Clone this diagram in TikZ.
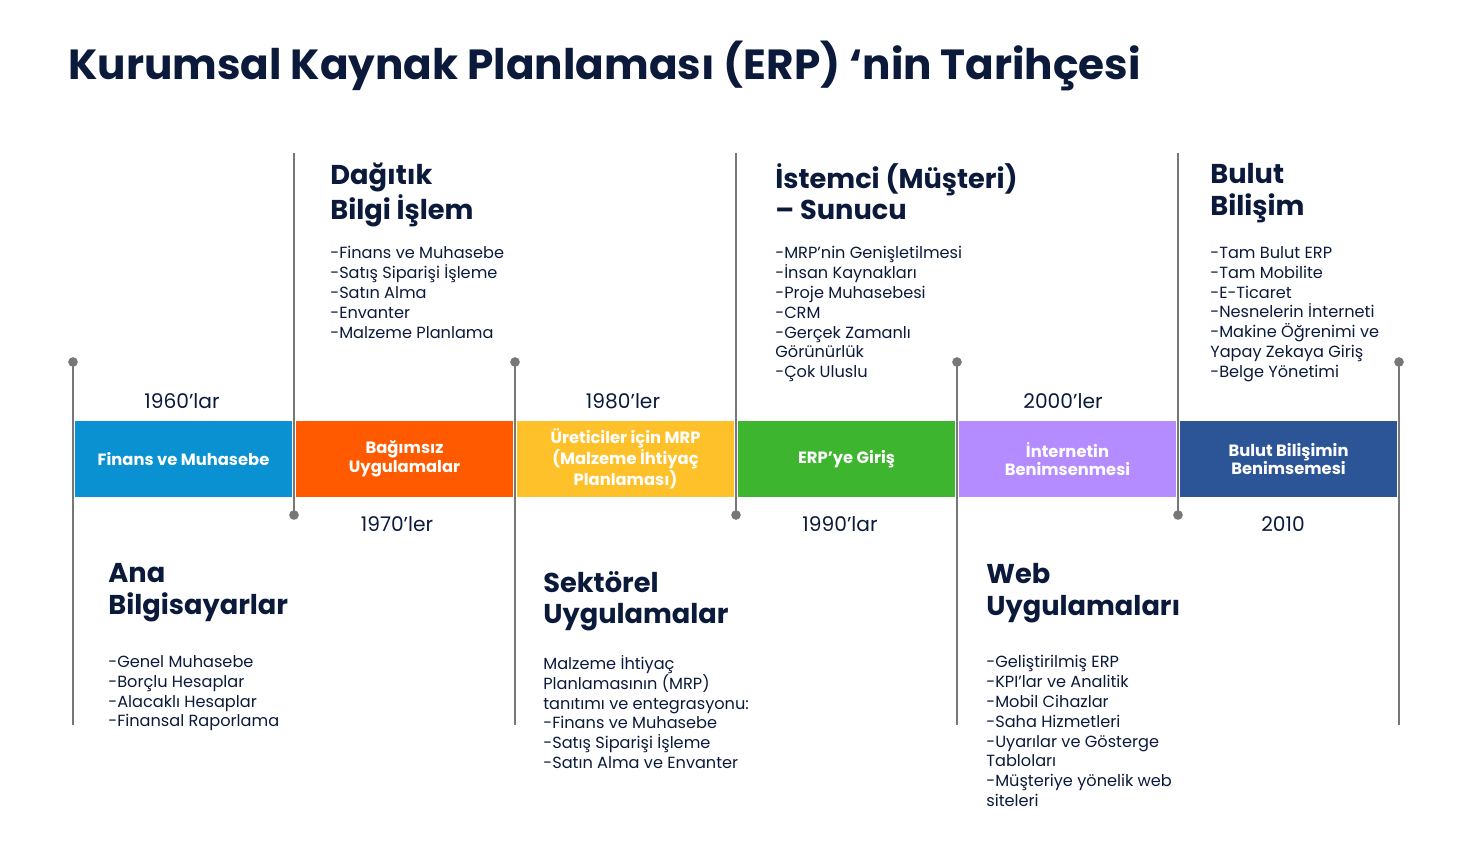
\documentclass[tikz,border=0pt]{standalone}
\usepackage{fontspec}
\setmainfont{Poppins}
\definecolor{navy}{HTML}{0B1A3A}
\definecolor{cA}{HTML}{0A91D2}
\definecolor{cB}{HTML}{FF5A00}
\definecolor{cC}{HTML}{FFC12A}
\definecolor{cD}{HTML}{3DB52E}
\definecolor{cE}{HTML}{B48CFF}
\definecolor{cF}{HTML}{2B5597}
\definecolor{ln}{HTML}{777777}
\begin{document}
\begin{tikzpicture}[x=0.02cm,y=-0.02cm,
 bar/.style={minimum width=217*0.02cm,minimum height=76*0.02cm,inner sep=0,text=white,font=\fontsize{9.3}{10.5}\selectfont\bfseries,align=center},
 vl/.style={ln,line width=1.3pt},
 dt/.style={circle,fill=ln,inner sep=0,minimum size=5.5pt},
 yr/.style={font=\fontsize{11.5}{13}\selectfont,text=navy},
 hd/.style={anchor=north west,inner sep=0,align=left,font=\fontsize{15.5}{18}\selectfont\bfseries,text=navy},
 ls/.style={anchor=north west,inner sep=0,align=left,font=\fontsize{9.2}{11.3}\selectfont,text=navy}]
\useasboundingbox (0,0) rectangle (1472,866);
\node[anchor=west,inner sep=0,font=\fontsize{24}{28}\selectfont\bfseries,text=navy] (title) at (68,66) {Kurumsal Kaynak Planlaması (ERP) ‘nin Tarihçesi};
% lines
\foreach \n/\x in {a/73,c/515,e/957,g/1399}{
 \coordinate (\n1) at (\x,362); \coordinate (\n2) at (\x,725);
 \draw[vl] (\n1) -- (\n2); \node[dt] (d\n) at (\n1) {};}
\foreach \n/\x in {b/294,d/736,f/1178}{
 \coordinate (\n1) at (\x,153); \coordinate (\n2) at (\x,515);
 \draw[vl] (\n1) -- (\n2); \node[dt] (d\n) at (\n2) {};}
% bars
\node[bar,fill=cA] (b1) at (183.5,459) {Finans ve Muhasebe};
\node[bar,fill=cB] (b2) at (404.5,459) {Bağımsız\\Uygulamalar};
\node[bar,fill=cC] (b3) at (625.5,459) {Üreticiler için MRP\\(Malzeme İhtiyaç\\Planlaması)};
\node[bar,fill=cD] (b4) at (846.5,459) {ERP’ye Giriş};
\node[bar,fill=cE] (b5) at (1067.5,459) {İnternetin\\Benimsenmesi};
\node[bar,fill=cF] (b6) at (1288.5,459) {Bulut Bilişimin\\Benimsemesi};
% years
\node[yr] (y1) at (182,401) {1960’lar};
\node[yr] (y2) at (397,524) {1970’ler};
\node[yr] (y3) at (623,401) {1980’ler};
\node[yr] (y4) at (840,524) {1990’lar};
\node[yr] (y5) at (1063,401) {2000’ler};
\node[yr] (y6) at (1283,524) {2010};
% headings
\node[hd] (h1) at (108,563) {Ana\\Bilgisayarlar};
\node[hd] (h2) at (330,163) {Dağıtık\\Bilgi İşlem};
\node[hd] (h3) at (543,571) {Sektörel\\Uygulamalar};
\node[hd] (h4) at (775,163) {İstemci (Müşteri)\\– Sunucu};
\node[hd] (h5) at (986,563) {Web\\Uygulamaları};
\node[hd] (h6) at (1210,163) {Bulut\\Bilişim};
% lists
\node[ls] (l1) at (108,655) {-Genel Muhasebe\\-Borçlu Hesaplar\\-Alacaklı Hesaplar\\-Finansal Raporlama};
\node[ls] (l2) at (330,246) {-Finans ve Muhasebe\\-Satış Siparişi İşleme\\-Satın Alma\\-Envanter\\-Malzeme Planlama};
\node[ls] (l3) at (543,655) {Malzeme İhtiyaç\\Planlamasının (MRP)\\tanıtımı ve entegrasyonu:\\-Finans ve Muhasebe\\-Satış Siparişi İşleme\\-Satın Alma ve Envanter};
\node[ls] (l4) at (775,246) {-MRP'nin Genişletilmesi\\-İnsan Kaynakları\\-Proje Muhasebesi\\-CRM\\-Gerçek Zamanlı\\Görünürlük\\-Çok Uluslu};
\node[ls] (l5) at (986,655) {-Geliştirilmiş ERP\\-KPI'lar ve Analitik\\-Mobil Cihazlar\\-Saha Hizmetleri\\-Uyarılar ve Gösterge\\Tabloları\\-Müşteriye yönelik web\\siteleri};
\node[ls] (l6) at (1210,246) {-Tam Bulut ERP\\-Tam Mobilite\\-E-Ticaret\\-Nesnelerin İnterneti\\-Makine Öğrenimi ve\\Yapay Zekaya Giriş\\-Belge Yönetimi};
\end{tikzpicture}
\end{document}
